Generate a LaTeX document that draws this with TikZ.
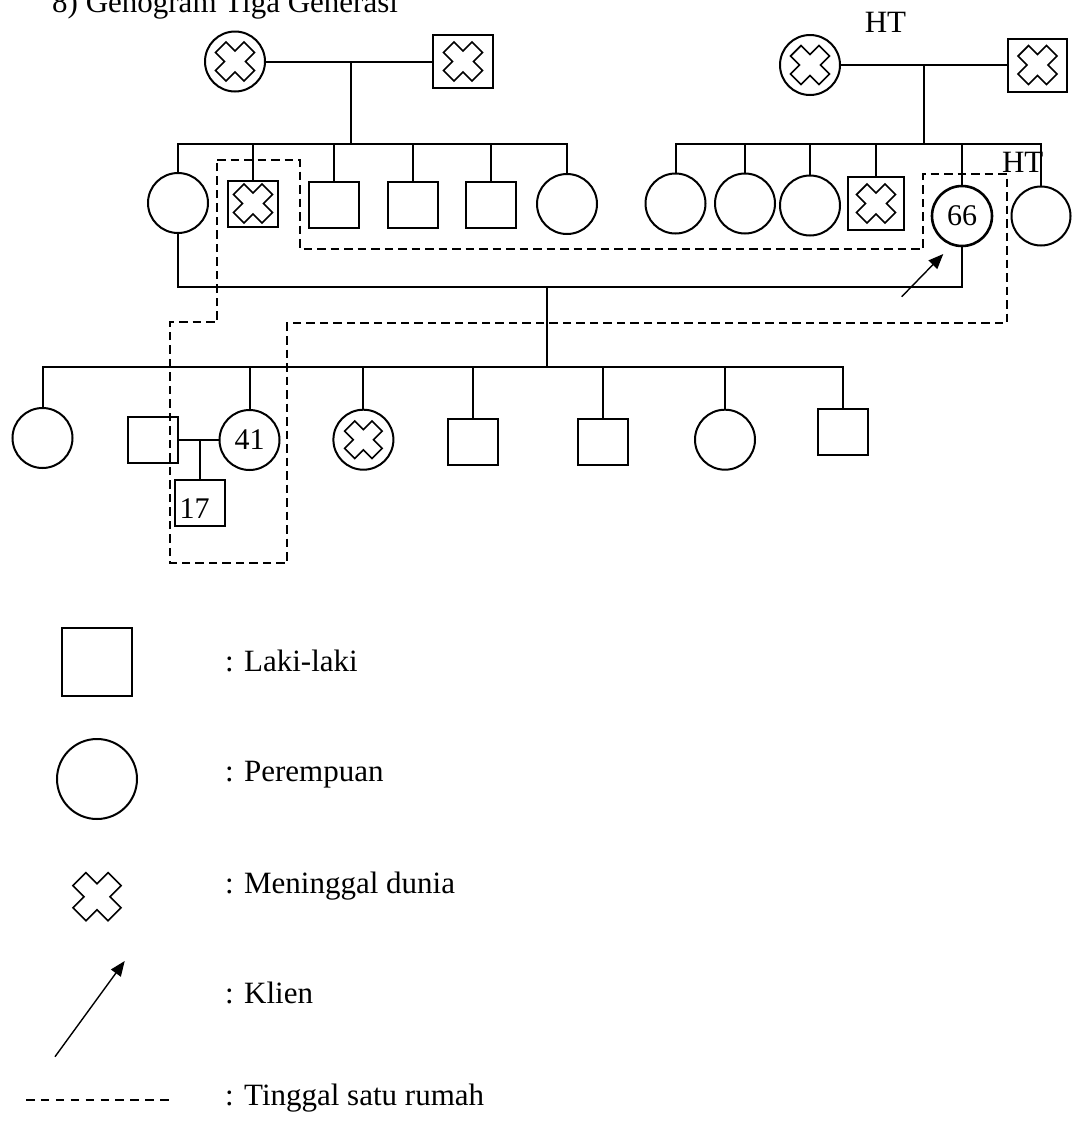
\documentclass[tikz,border=0pt]{standalone}
\usepackage{fontspec}
\setmainfont{Liberation Serif}
\usetikzlibrary{arrows.meta}
\tikzset{
  ln/.style={line width=2pt},
  male/.style={draw, rectangle, line width=2pt, inner sep=0pt, minimum width=50pt, minimum height=46pt},
  female/.style={draw, circle, line width=2pt, inner sep=0pt, minimum size=60pt},
  txt/.style={font=\fontsize{31}{37}\selectfont, inner sep=0pt},
  num/.style={font=\fontsize{30}{36}\selectfont, inner sep=0pt},
  house/.style={line width=2pt, dash pattern=on 8.5pt off 5pt},
  klien/.style={line width=1.4pt, -{Triangle[length=15pt,width=12pt]}},
  xcross/.pic={\draw[line width=1.6pt, rotate=45] (0.27,0.73) -- (0.27,0.27) -- (0.73,0.27) -- (0.73,-0.27) -- (0.27,-0.27) -- (0.27,-0.73) -- (-0.27,-0.73) -- (-0.27,-0.27) -- (-0.73,-0.27) -- (-0.73,0.27) -- (-0.27,0.27) -- (-0.27,0.73) -- cycle;}
}
\begin{document}
\begin{tikzpicture}[x=1pt,y=-1pt]
\useasboundingbox (0,0) rectangle (1074,1122);
\node[txt, anchor=base west] (title) at (52,12) {8) Genogram Tiga Generasi};

% ---------- Generation 1, left ----------
\node[female] (A1) at (235,61.5) {};
\pic[scale=27.5] at (A1) {xcross};
\node[male, minimum width=59.5pt, minimum height=53pt] (A2) at (463,61.5) {};
\pic[scale=27.5] at (A2) {xcross};
\coordinate (j1) at (351,61.5);
\coordinate (s1) at (351,144);
\draw[ln] (A1.east) -- (A2.west);
\draw[ln] (j1) -- (s1);

% ---------- Generation 1, right ----------
\node[female] (C1) at (810,65) {};
\pic[scale=27.5] at (C1) {xcross};
\node[male, minimum width=59.5pt, minimum height=53pt] (C2) at (1037.5,65) {};
\pic[scale=27.5] at (C2) {xcross};
\node[txt, anchor=base] (ht1) at (885.5,32) {HT};
\coordinate (j2) at (924,65);
\coordinate (s2) at (924,144);
\draw[ln] (C1.east) -- (C2.west);
\draw[ln] (j2) -- (s2);

% ---------- Generation 2, left siblings ----------
\node[female] (B1) at (178,203) {};
\node[male] (B2) at (253,203.5) {};
\pic[scale=27.5] at (B2) {xcross};
\node[male] (B3) at (334,204.5) {};
\node[male] (B4) at (412.5,204.5) {};
\node[male] (B5) at (490.5,204.5) {};
\node[female] (B6) at (567,204) {};
\draw[ln] (B1.north) -- (B1.north |- s1) -- (B6.north |- s1) -- (B6.north);
\foreach \n in {B2,B3,B4,B5} \draw[ln] (\n.north |- s1) -- (\n.north);

% ---------- Generation 2, right siblings ----------
\node[female] (D1) at (675.5,203.5) {};
\node[female] (D2) at (745,203.5) {};
\node[female] (D3) at (810,205.5) {};
\node[male, minimum width=55.5pt, minimum height=53pt] (D4) at (876,203.5) {};
\pic[scale=27.5] at (D4) {xcross};
\node[female, line width=2.6pt, font=\fontsize{30}{36}\selectfont] (D5) at (962,216) {66};
\node[female, minimum size=59pt] (D6) at (1041,216) {};
\node[txt, anchor=base] (ht2) at (1022.7,172) {HT};
\draw[ln] (D1.north) -- (D1.north |- s2) -- (D6.north |- s2) -- (D6.north);
\foreach \n in {D2,D3,D4,D5} \draw[ln] (\n.north |- s2) -- (\n.north);

% ---------- Marriage of generation 2 ----------
\coordinate (m2) at (546.5,286.5);
\coordinate (s3) at (546.5,367);
\draw[ln] (B1.south) -- (B1.south |- m2) -- (D5.south |- m2) -- (D5.south);
\draw[ln] (m2) -- (s3);

% ---------- Generation 3 ----------
\node[female] (E1) at (42.5,438) {};
\node[male] (F1) at (152.5,440) {};
\node[female, font=\fontsize{30}{36}\selectfont] (E2) at (249.5,440) {41};
\node[female] (E3) at (363.4,439.7) {};
\pic[scale=26.5] at (E3) {xcross};
\node[male] (E4) at (472.7,442) {};
\node[male] (E5) at (603,442) {};
\node[female] (E6) at (725,439.7) {};
\node[male] (E7) at (843,432) {};
\draw[ln] (E1.north) -- (E1.north |- s3) -- (E7.north |- s3) -- (E7.north);
\foreach \n in {E2,E3,E4,E5,E6} \draw[ln] (\n.north |- s3) -- (\n.north);

% couple of E2 and their child
\node[male] (G1) at (200,503) {};
\node[num] (t17) at (194.5,509) {17};
\coordinate (j3) at (200,440);
\draw[ln] (F1.east) -- (E2.west);
\draw[ln] (j3) -- (G1.north);

% ---------- Household (dashed) ----------
\draw[house] (217,160) -- (300,160) -- (300,249) -- (923,249) -- (923,174)
  -- (1007,174) -- (1007,323) -- (287,323) -- (287,563) -- (170,563)
  -- (170,322) -- (217,322) -- cycle;

% ---------- Client arrow ----------
\coordinate (kt) at (901.7,296.7);
\coordinate (kh) at (943.3,254);
\draw[klien] (kt) -- (kh);

% ---------- Legend ----------
\node[male, minimum width=70pt, minimum height=68pt] (L1) at (97,662) {};
\node[txt, anchor=base west] (l1t) at (225,671.7) {: Laki-laki};
\node[female, minimum size=80pt] (L2) at (97,779) {};
\node[txt, anchor=base west] (l2t) at (225,781.7) {: Perempuan};
\pic[scale=34] at (97,896.7) {xcross};
\node[txt, anchor=base west] (l3t) at (225,893.3) {: Meninggal dunia};
\coordinate (lat) at (55,1056.7);
\coordinate (lah) at (124.7,961);
\draw[klien] (lat) -- (lah);
\node[txt, anchor=base west] (l4t) at (225,1003) {: Klien};
\coordinate (ld1) at (26,1100);
\coordinate (ld2) at (169,1100);
\draw[line width=1.3pt, dash pattern=on 8.5pt off 6.4pt] (ld1) -- (ld2);
\node[txt, anchor=base west] (l5t) at (225,1105) {: Tinggal satu rumah};
\end{tikzpicture}
\end{document}
